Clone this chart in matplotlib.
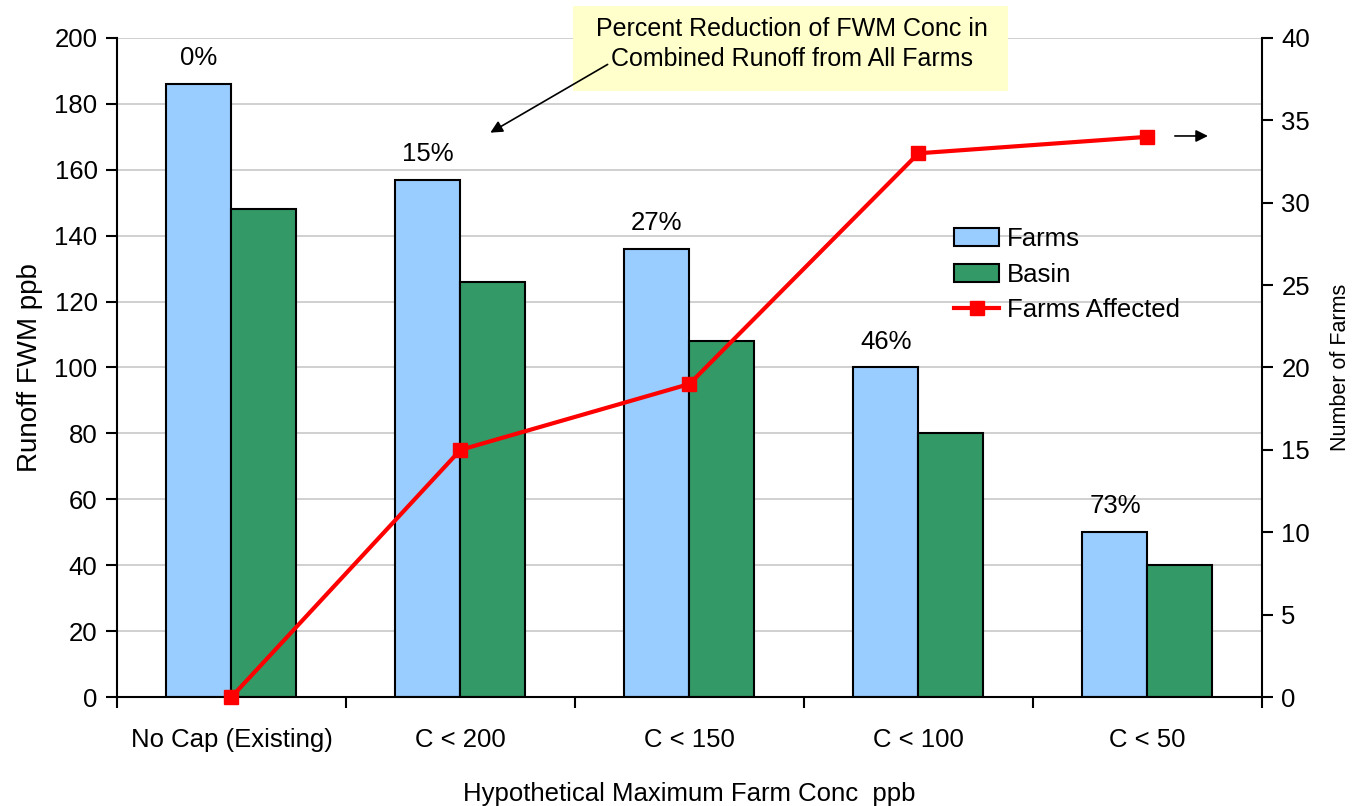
import matplotlib
matplotlib.use("Agg")
import matplotlib.pyplot as plt
import numpy as np
from matplotlib.patches import Rectangle, FancyArrowPatch

plt.rcParams['font.family'] = ['Liberation Sans', 'DejaVu Sans']

categories = ["No Cap (Existing)", "C < 200", "C < 150", "C < 100", "C < 50"]
farms = [186, 157, 136, 100, 50]
basin = [148, 126, 108, 80, 40]
farms_affected = [0, 15, 19, 33, 34]
pct_labels = ["0%", "15%", "27%", "46%", "73%"]

fig = plt.figure(figsize=(13.52, 8.06), dpi=100)
ax = fig.add_axes([0.0865, 0.1352, 0.8469, 0.8177])
x = np.arange(len(categories))
w = 0.284

ax.set_axisbelow(True)
ax.yaxis.grid(True, color='#c8c8c8', lw=1.2)
b1 = ax.bar(x - w / 2, farms, w, color='#99ccff', edgecolor='black', lw=1.5, label='Farms')
b2 = ax.bar(x + w / 2, basin, w, color='#339966', edgecolor='black', lw=1.5, label='Basin')
for xi, v, t in zip(x, farms, pct_labels):
    ax.annotate(t, (xi - w / 2, v), xytext=(0, 10), textcoords='offset points',
                ha='center', va='bottom', fontsize=18.5)

ax.set_xlim(-0.5, 4.5)
ax.set_ylim(0, 200)
ax.set_yticks(range(0, 201, 20))
ax.set_xticks(x)
ax.set_xticklabels(categories)
ax.set_xticks(np.arange(-0.5, 5, 1), minor=True)
ax.tick_params(axis='x', which='major', length=0, pad=22, labelsize=18.5)
ax.tick_params(axis='x', which='minor', length=8, width=1.5, direction='out')
ax.tick_params(axis='y', length=8, width=1.5, labelsize=18.5, pad=6)
ax.spines['top'].set_visible(False)
ax.spines['right'].set_visible(False)
for s in ('left', 'bottom'):
    ax.spines[s].set_linewidth(1.5)
ax.set_ylabel("Runoff FWM ppb", fontsize=20, labelpad=8)
ax.set_xlabel("Hypothetical Maximum Farm Conc  ppb", fontsize=18.5, labelpad=22)

ax2 = ax.twinx()
ln, = ax2.plot(x, farms_affected, color='red', lw=3, marker='s', markersize=10,
               label='Farms Affected', clip_on=False, zorder=5)
ax2.set_ylim(0, 40)
ax2.set_yticks(range(0, 41, 5))
ax2.tick_params(axis='y', length=8, width=1.5, labelsize=18.5, pad=6)
ax2.spines['top'].set_visible(False)
ax2.spines['left'].set_visible(False)
ax2.spines['bottom'].set_visible(False)
ax2.spines['right'].set_linewidth(1.5)
ax2.set_ylabel("Number of Farms", fontsize=15.5, labelpad=14)

leg = ax2.legend([b1, b2, ln], ['Farms', 'Basin', 'Farms Affected'], loc='upper left',
                 bbox_to_anchor=(0.711, 0.748), frameon=False, fontsize=18.5,
                 handlelength=1.75, handletextpad=0.3, labelspacing=0.45)

# callout box
fig.patches.append(Rectangle((0.4238, 0.887), 0.3218, 0.1056, transform=fig.transFigure,
                             facecolor='#ffffcc', edgecolor='none', zorder=10))
fig.text(0.5855, 0.9454, "Percent Reduction of FWM Conc in\nCombined Runoff from All Farms",
         ha='center', va='center', fontsize=18, linespacing=1.28, zorder=11)
fig.add_artist(FancyArrowPatch(
    (0.4512, 0.9218), (0.3609, 0.8337), transform=fig.transFigure,
    arrowstyle='-|>', mutation_scale=18, color='black', lw=1.2, zorder=11))
fig.add_artist(FancyArrowPatch(
    (0.8669, 0.8313), (0.8955, 0.8313), transform=fig.transFigure,
    arrowstyle='-|>', mutation_scale=18, color='black', lw=1.2, zorder=11))

fig.savefig("out.png", dpi=100)
